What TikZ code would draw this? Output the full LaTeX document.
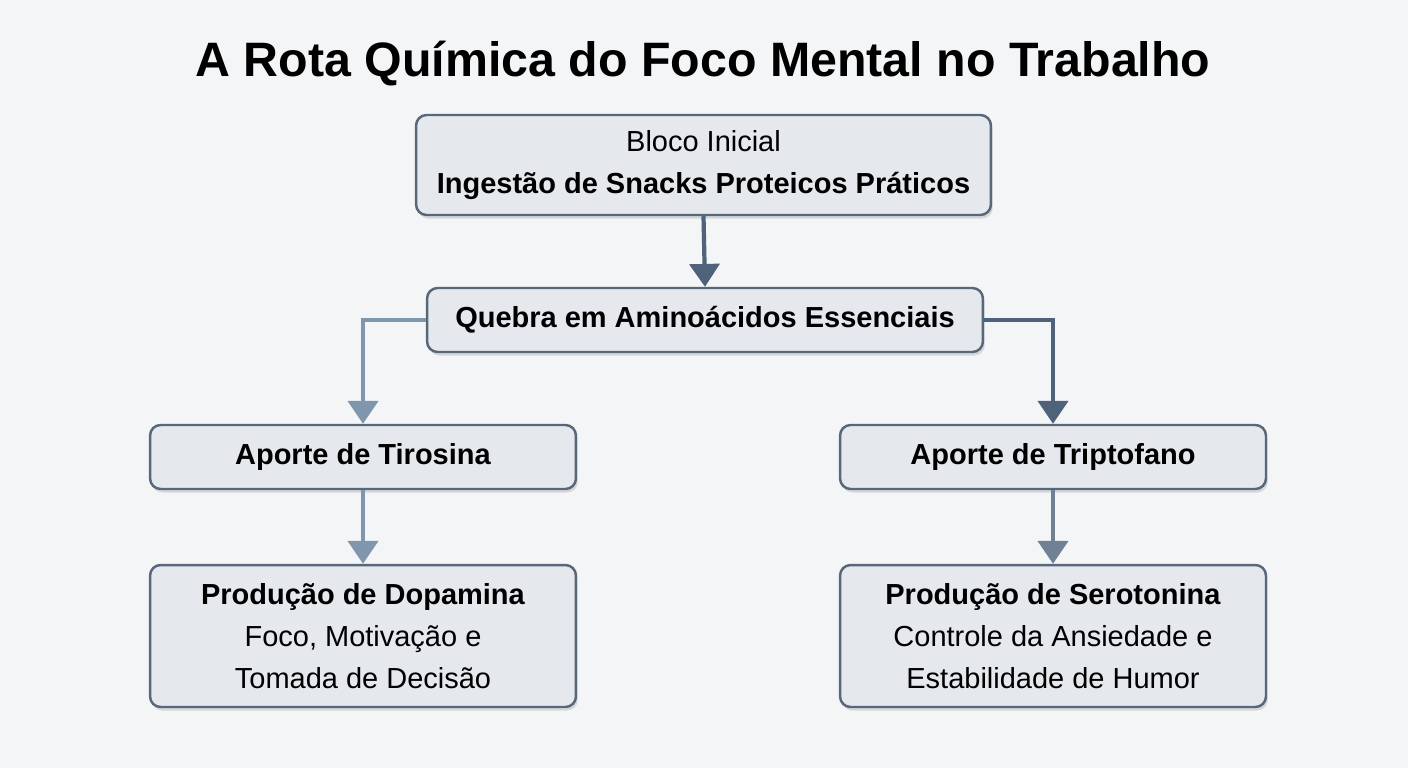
\documentclass[tikz,border=0pt]{standalone}
\usepackage{fontspec}
\setmainfont{Liberation Sans}
\usetikzlibrary{arrows.meta, positioning, shadows}
\definecolor{bgpale}{RGB}{243,245,247}
\definecolor{boxfill}{RGB}{229,232,237}
\definecolor{boxline}{RGB}{88,104,122}
\definecolor{darkslate}{RGB}{78,98,122}
\definecolor{lightslate}{RGB}{128,150,172}

\tikzset{
  stage/.style={draw=boxline, fill=boxfill, line width=1.4pt, rounded corners=6pt,
    align=center, font=\fontsize{16.5}{24}\selectfont,
    drop shadow={opacity=0.25, shadow xshift=1pt, shadow yshift=-2pt}},
  flow/.style={line width=2.4pt, -{Triangle[width=17pt,length=13pt]}},
}

\begin{document}
\begin{tikzpicture}[x=0.02cm, y=-0.02cm]
\useasboundingbox (0,0) rectangle (1408,768);
\fill[bgpale] (0,0) rectangle (1408,768);

% Title
\node (title) at (703,64) {\fontsize{27.5}{32}\selectfont\bfseries A Rota Química do Foco Mental no Trabalho};

% Boxes
\node[stage, minimum width=11.5cm, minimum height=2cm] (start) at (703.5,165)
  {Bloco Inicial\\\textbf{Ingestão de Snacks Proteicos Práticos}};
\node[stage, minimum width=11.12cm, minimum height=1.28cm] (amino) at (705,320)
  {\textbf{Quebra em Aminoácidos Essenciais}};
\node[stage, minimum width=8.52cm, minimum height=1.28cm] (tiro) at (363,457)
  {\textbf{Aporte de Tirosina}};
\node[stage, minimum width=8.52cm, minimum height=1.28cm] (tript) at (1053,457)
  {\textbf{Aporte de Triptofano}};
\node[stage, minimum width=8.52cm, minimum height=2.84cm] (dopa) at (363,636)
  {\textbf{Produção de Dopamina}\\Foco, Motivação e\\Tomada de Decisão};
\node[stage, minimum width=8.52cm, minimum height=2.84cm] (sero) at (1053,636)
  {\textbf{Produção de Serotonina}\\Controle da Ansiedade e\\Estabilidade de Humor};

% Connectors
\draw[flow, darkslate] (start.south) -- (amino.north);
\draw[flow, lightslate] (amino.west) -| (tiro.north);
\draw[flow, darkslate] (amino.east) -| (tript.north);
\draw[flow, lightslate] (tiro.south) -- (dopa.north);
\draw[flow, darkslate!80] (tript.south) -- (sero.north);
\end{tikzpicture}
\end{document}
